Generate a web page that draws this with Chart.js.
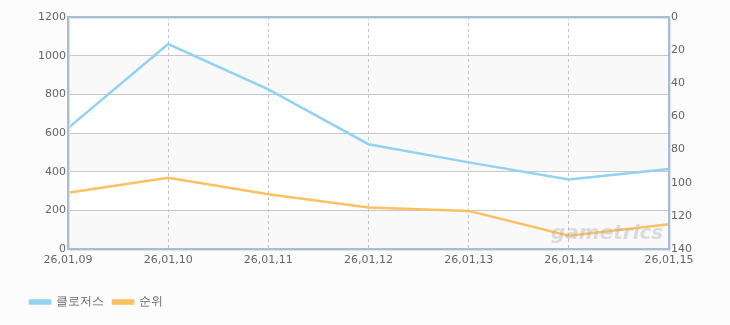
<!DOCTYPE html>
<html>
<head>
<meta charset="utf-8">
<script src="https://cdn.jsdelivr.net/npm/chart.js@4"></script>
<style>
  html, body { margin: 0; padding: 0; background: #fcfcfc; }
  #wrap { width: 730px; height: 325px; }
</style>
</head>
<body>
<div id="wrap"><canvas id="myChart" width="730" height="325"></canvas></div>
<script>
// chart data
const days = ['26,01,09', '26,01,10', '26,01,11', '26,01,12', '26,01,13', '26,01,14', '26,01,15'];
const closersValues = [625, 1060, 826, 542, 448, 360, 414];
const rankValues = [106, 97, 107, 115, 117, 132, 125];
const leftTicks = [0, 200, 400, 600, 800, 1000, 1200];
const rightTicks = [0, 20, 40, 60, 80, 100, 120, 140];

// striped background + frame around the plot area
const plotFrame = {
  id: 'plotFrame',
  beforeDraw(chart) {
    const c = chart.ctx, a = chart.chartArea, y = chart.scales.y;
    c.save();
    c.fillStyle = '#ffffff';
    c.fillRect(a.left, a.top, a.right - a.left, a.bottom - a.top);
    c.fillStyle = '#f9f9f9';
    for (let i = 0; i < leftTicks.length - 1; i += 2) {
      const y1 = y.getPixelForValue(leftTicks[i]);
      const y2 = y.getPixelForValue(leftTicks[i + 1]);
      c.fillRect(a.left, y2, a.right - a.left, y1 - y2);
    }
    c.restore();
  },
  afterDraw(chart) {
    const c = chart.ctx, a = chart.chartArea;
    c.save();
    // watermark
    c.font = 'italic bold 20px "DejaVu Sans"';
    c.fillStyle = 'rgba(175,175,175,0.4)';
    c.textAlign = 'left';
    c.fillText('gametrics', 551, 234);
    // frame
    c.strokeStyle = '#dde3ea';
    c.lineWidth = 1;
    c.strokeRect(a.left + 1.5, a.top + 1.5, a.right - a.left, a.bottom - a.top);
    c.strokeStyle = '#a9bdd4';
    c.lineWidth = 2;
    c.strokeRect(a.left, a.top, a.right - a.left, a.bottom - a.top);
    c.restore();
  }
};

const tickFont = { family: '"DejaVu Sans", sans-serif', size: 11 };

new Chart(document.getElementById('myChart'), {
  type: 'line',
  data: {
    labels: days,
    datasets: [{
      label: '클로저스',
      data: closersValues,
      yAxisID: 'y',
      borderColor: '#92d2f2',
      backgroundColor: '#92d2f2',
      borderWidth: 2.5,
      pointRadius: 0,
      tension: 0
    }, {
      label: '순위',
      data: rankValues,
      yAxisID: 'y1',
      borderColor: '#ffc061',
      backgroundColor: '#ffc061',
      borderWidth: 2.5,
      pointRadius: 0,
      tension: 0
    }]
  },
  options: {
    responsive: false,
    animation: false,
    layout: { padding: { top: 17, left: 21, right: 0, bottom: 7 } },
    plugins: {
      tooltip: { enabled: false },
      legend: {
        position: 'bottom',
        align: 'start',
        labels: {
          boxWidth: 20,
          boxHeight: 3,
          padding: 9,
          color: '#666',
          font: { family: '"DejaVu Sans", sans-serif', size: 12 }
        }
      }
    },
    scales: {
      x: {
        offset: false,
        grid: { color: '#c4c4c4', drawTicks: false },
        border: { display: false, dash: [3, 3] },
        ticks: { color: '#666', font: tickFont, padding: 5, maxRotation: 0, autoSkip: false },
        afterFit(scale) { scale.height = 38; }
      },
      y: {
        position: 'left',
        min: 0,
        max: 1200,
        afterBuildTicks(scale) { scale.ticks = leftTicks.map(v => ({ value: v })); },
        grid: { color: '#c8c8c8', drawTicks: false },
        border: { display: false },
        ticks: { color: '#666', font: tickFont, padding: 2, callback: v => String(v) },
        afterFit(scale) { scale.width = 47; }
      },
      y1: {
        position: 'right',
        reverse: true,
        min: 0,
        max: 140,
        afterBuildTicks(scale) { scale.ticks = rightTicks.map(v => ({ value: v })); },
        grid: { display: false, drawTicks: false },
        border: { display: false },
        ticks: { color: '#666', font: tickFont, padding: 2, callback: v => String(v) },
        afterFit(scale) { scale.width = 61; }
      }
    }
  },
  plugins: [plotFrame]
});
</script>
</body>
</html>
